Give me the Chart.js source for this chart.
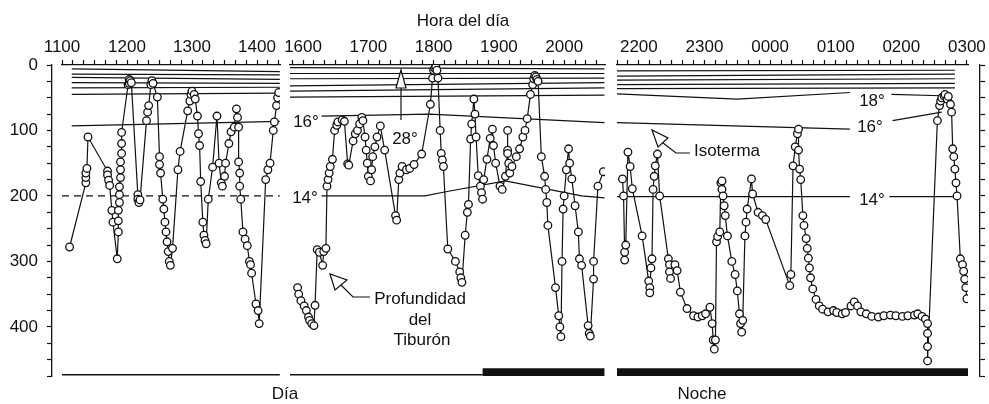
<!DOCTYPE html>
<html>
<head>
<meta charset="utf-8">
<script src="https://cdn.jsdelivr.net/npm/chart.js@4.4.1/dist/chart.umd.min.js"></script>
<style>
html,body{margin:0;padding:0;background:#fff}
#wrap{position:relative;width:989px;height:404px}
</style>
</head>
<body>
<div id="wrap"><canvas id="c"></canvas></div>
<script>

// profundidad del tiburon (m) vs hora (minutos desde 00:00 del primer dia)
const p1Time=[667,682,682,682,683,684,702,702,703,704,706,707,711,712,712,712,713,713,713,714,714,714,715,715,715,721,722,722,723,724,730,730,731,732,738,739,740,742,743,744,748,750,750,751,753,754,755,756,757,758,759,760,762,767,769,776,778,779,780,782,783,785,786,787,788,790,791,792,793,795,799,803,805,807,808,810,811,814,816,819,821,822,823,823,824,824,825,827,829,831,833,834,835,839,841,842,848,850,852,855,856,858,859,860]
const p1Depth=[278,180,172,165,158,110,162,168,176,184,222,240,296,255,238,222,210,198,186,172,160,148,135,120,103,30,28,22,24,27,198,205,210,206,85,72,62,30,24,28,49,140,152,165,205,220,240,255,270,285,300,306,280,160,132,70,55,45,40,45,52,78,105,123,178,240,260,268,273,205,156,78,150,180,185,170,150,120,102,95,67,80,95,148,165,185,205,255,266,276,300,305,318,365,375,395,175,160,150,100,87,62,50,42]

const p2Time=[955,956,958,961,963,965,966,968,970,971,973,975,978,979,981,982,983,984,985,987,989,991,992,996,998,1001,1002,1006,1008,1010,1012,1014,1015,1017,1018,1019,1020,1022,1023,1024,1026,1028,1031,1035,1045,1046,1048,1049,1051,1055,1058,1062,1069,1077,1079,1080,1081,1082,1083,1084,1086,1087,1088,1089,1093,1100,1104,1105,1106,1109,1111,1112,1114,1115,1117,1118,1119,1121,1123,1124,1125,1126,1129,1132,1134,1135,1137,1141,1143,1146,1148,1148,1148,1149,1150,1152,1156,1159,1162,1164,1166,1169,1171,1172,1173,1174,1175,1176,1179,1182,1183,1184,1185,1192,1195,1196,1197,1198,1199,1200,1202,1204,1205,1207,1210,1213,1214,1216,1222,1223,1224,1227,1227,1231,1236]
const p2Depth=[340,350,360,368,375,385,390,395,398,367,282,286,306,285,280,185,175,165,155,144,100,92,87,84,86,151,153,116,105,100,90,80,85,110,130,150,170,177,160,140,125,110,93,130,230,237,175,165,155,160,158,152,136,60,20,8,5,3,8,20,100,135,145,155,281,300,316,325,332,260,225,213,113,90,52,75,110,169,185,195,205,175,144,112,98,123,150,185,190,170,130,100,135,150,165,155,140,128,110,100,82,45,30,21,16,18,22,25,140,170,190,210,245,340,383,400,415,300,220,200,160,128,150,174,215,255,296,306,398,410,414,327,300,185,163]

const p3Time=[1305,1306,1307,1307,1308,1310,1312,1314,1323,1329,1330,1330,1331,1332,1333,1334,1335,1337,1339,1347,1348,1348,1349,1353,1355,1358,1364,1370,1374,1378,1381,1385,1387,1388,1389,1390,1391,1392,1394,1395,1396,1396,1397,1398,1399,1401,1405,1408,1410,1412,1413,1414,1415,1417,1418,1419,1423,1424,1429,1433,1436,1458,1459,1461,1463,1465,1466,1466,1467,1468,1470,1471,1473,1474,1475,1476,1477,1479,1482,1485,1488,1493,1498,1501,1506,1509,1514,1517,1520,1523,1528,1533,1539,1544,1550,1555,1561,1566,1572,1575,1579,1582,1584,1584,1584,1584,1593,1595,1596,1597,1599,1600,1602,1603,1605,1606,1607,1608,1609,1610,1611,1614,1616,1617,1618,1619,1620]
const p3Depth=[174,200,286,298,275,133,155,189,261,330,340,348,310,296,190,170,154,136,200,296,305,316,326,305,314,347,372,383,385,383,380,370,395,420,434,420,270,262,255,180,177,190,200,215,230,261,300,320,345,380,395,408,390,261,240,220,174,197,225,230,236,337,320,154,125,105,98,130,159,175,230,245,265,280,295,310,325,342,358,368,373,377,375,378,380,378,368,362,368,377,380,384,385,383,382,383,384,383,382,380,384,388,395,410,430,452,85,62,55,50,47,45,52,48,60,72,128,140,159,180,200,296,305,315,327,340,357]

// isotermas: 28, 26, 24, 22, 20, 18 (y 16 en el primer panel)
const isoTime1=[669,861]
const iso1=[[6,10],[14,15],[19,22],[27,28],[35,34],[45,43],[93,86]]
const iso14Time1=[660,861], iso14Depth1=[200,200]

const isoTime2=[948,1237]
const iso2=[[4,6],[13,13],[21,20],[32,27],[40,35],[49,46]]
const iso16Time2=[977,1076,1237], iso16Depth2=[78,75,88]
const iso14Time2=[977,1072,1090,1146,1216,1237], iso14Depth2=[200,200,194,177,200,203]

const isoTime3=[1300,1609]
const iso3=[[9,8],[17,14],[23,21],[30,28],[36,35]]
const iso18Time3=[1300,1410,1513], iso18Depth3=[44,52,42]
const iso18bTime3=[1551,1597], iso18bDepth3=[45,47]
const iso16Time3=[1300,1513], iso16Depth3=[88,98]
const iso16bTime3=[1552,1597], iso16bDepth3=[85,72]
const iso14Time3=[1300,1513], iso14Depth3=[201,201]
const iso14bTime3=[1549,1611], iso14bDepth3=[201,201]

// dia / noche
const dayTime1=[660,861], dayTime2=[948,1125]
const nightTime2=[1125,1237], nightTime3=[1300,1621]
const dayDepth=473, nightDepth=470

const FONT='"Liberation Sans", Arial, sans-serif'
const INK='#111'

function line(ax,t,d,o){
  return Object.assign({xAxisID:ax,yAxisID:'y',showLine:true,
    data:t.map((v,i)=>({x:v,y:d[i]})),
    borderColor:INK,borderWidth:1.2,pointRadius:0,pointHoverRadius:0},o||{})
}

function track(ax,t,d){
  return line(ax,t,d,{pointRadius:3.8,pointBorderWidth:1.3,pointBorderColor:INK,pointBackgroundColor:'#fff'})
}

let sets=[track('x1',p1Time,p1Depth),track('x2',p2Time,p2Depth),track('x3',p3Time,p3Depth)]

iso1.forEach(d=>sets.push(line('x1',isoTime1,d)))
iso2.forEach(d=>sets.push(line('x2',isoTime2,d)))
iso3.forEach(d=>sets.push(line('x3',isoTime3,d)))
sets.push(line('x1',iso14Time1,iso14Depth1,{borderDash:[7,5],borderWidth:1.3}))
sets.push(line('x2',iso16Time2,iso16Depth2))
sets.push(line('x2',iso14Time2,iso14Depth2))
sets.push(line('x3',iso18Time3,iso18Depth3))
sets.push(line('x3',iso18bTime3,iso18bDepth3))
sets.push(line('x3',iso16Time3,iso16Depth3))
sets.push(line('x3',iso16bTime3,iso16bDepth3))
sets.push(line('x3',iso14Time3,iso14Depth3))
sets.push(line('x3',iso14bTime3,iso14bDepth3))

sets.push(line('x1',dayTime1,[dayDepth,dayDepth],{borderWidth:1.5}))
sets.push(line('x2',dayTime2,[dayDepth,dayDepth],{borderWidth:1.5}))
sets.push(line('x2',nightTime2,[nightDepth,nightDepth],{borderWidth:9,borderCapStyle:'butt'}))
sets.push(line('x3',nightTime3,[nightDepth,nightDepth],{borderWidth:9,borderCapStyle:'butt'}))

function hhmm(v){
  if(v%60) return ''
  return String((v/60)%24).padStart(2,'0')+'00'
}

function noPad(s){
  s.paddingLeft=0
  s.paddingRight=0
  s.paddingTop=0
  s.paddingBottom=0
}

function timeAxis(min,max,w,weight){
  return {type:'linear',axis:'x',position:'top',stack:'t',stackWeight:w,weight:weight,min:min,max:max,
    afterFit:s=>{s.height=31;noPad(s)},
    afterBuildTicks:s=>{
      let a=[]
      for(let v=Math.ceil(s.min/10)*10;v<=s.max;v+=10) a.push({value:v})
      s.ticks=a
    },
    ticks:{autoSkip:false,maxRotation:0,padding:2,color:INK,font:{size:17,family:FONT},callback:hhmm},
    grid:{drawOnChartArea:false,tickLength:5,tickColor:INK,tickWidth:1.2},
    border:{color:INK,width:1.3}}
}

function gapAxis(w,weight){
  return {type:'linear',axis:'x',position:'top',stack:'t',stackWeight:w,weight:weight,min:0,max:1,
    afterFit:s=>{s.height=31;noPad(s)},
    ticks:{display:false},grid:{display:false},border:{display:false}}
}

function depthAxis(pos,w,labels){
  return {type:'linear',axis:'y',position:pos,reverse:true,min:0,max:475,
    afterFit:s=>{s.width=w;noPad(s)},
    ticks:{display:labels,stepSize:25,autoSkip:false,padding:9,color:INK,font:{size:17,family:FONT},
      callback:v=>v%100?'':v},
    grid:{drawOnChartArea:false,tickLength:5,tickColor:INK,tickWidth:1.2},
    border:{color:INK,width:1.3}}
}

const labels=[
  ['Hora del día',463,21],
  ['16°',306,122],['14°',305,198],['28°',405,139],
  ['Profundidad',420,299],['del',420,320],['Tiburón',422,340],
  ['Isoterma',727,151],
  ['18°',872,101],['16°',870,127],['14°',872,200],
  ['Día',285,394],['Noche',702,394]
]

const arrows=[
  {head:[[401,70],[396,88],[406,88]],tail:[[401,88],[401,120]]},
  {head:[[330,274],[335,290],[347,280]],tail:[[341,285],[353,297],[370,297]]},
  {head:[[652,130],[658,147],[668,138]],tail:[[663,143],[676,153],[690,153]]}
]

const notes={
  id:'notes',
  afterDraw(chart){
    let c=chart.ctx
    c.save()
    c.fillStyle=INK
    c.strokeStyle=INK
    c.lineWidth=1.2
    c.font='17px '+FONT
    c.textAlign='center'
    c.textBaseline='middle'
    labels.forEach(l=>c.fillText(l[0],l[1],l[2]))
    arrows.forEach(a=>{
      c.beginPath()
      a.tail.forEach((p,i)=>i?c.lineTo(p[0],p[1]):c.moveTo(p[0],p[1]))
      c.stroke()
      c.beginPath()
      a.head.forEach((p,i)=>i?c.lineTo(p[0],p[1]):c.moveTo(p[0],p[1]))
      c.closePath()
      c.fillStyle='#fff'
      c.fill()
      c.stroke()
      c.fillStyle=INK
    })
    c.restore()
  }
}

new Chart(document.getElementById('c'),{
  type:'scatter',
  data:{datasets:sets},
  options:{
    responsive:true,
    maintainAspectRatio:false,
    animation:false,
    devicePixelRatio:1,
    events:[],
    layout:{padding:{top:34,bottom:28,left:0,right:0}},
    plugins:{legend:{display:false},tooltip:{enabled:false},title:{display:false}},
    scales:{
      gapL:gapAxis(10,7),
      x1:timeAxis(660,861.2,218,6),
      gap1:gapAxis(10,5),
      x2:timeAxis(948,1237.5,315,4),
      gap2:gapAxis(12,3),
      x3:timeAxis(1300,1621,351,2),
      gapR:gapAxis(12,1),
      y:depthAxis('left',52,true),
      yR:depthAxis('right',9,false)
    }
  },
  plugins:[notes]
})

</script>
</body>
</html>
